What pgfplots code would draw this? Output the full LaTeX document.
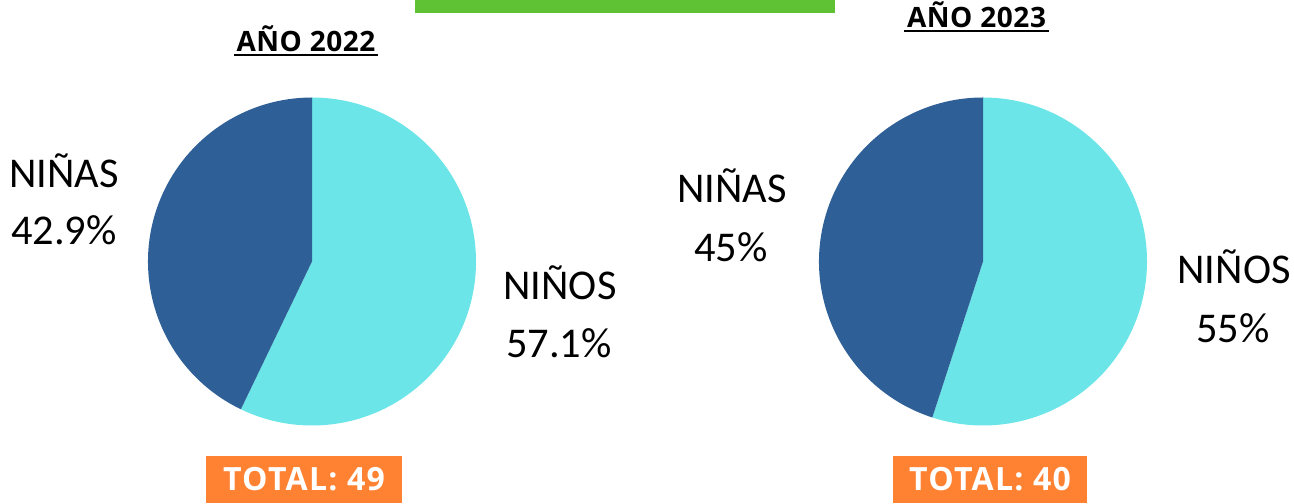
\documentclass[border=0pt]{standalone}
\usepackage{pgfplots}
\pgfplotsset{compat=1.18}
\usepackage{pgfplotstable}
\usepackage{fontspec}
\setmainfont{Carlito}
\newfontfamily\opensans{Open Sans}[BoldFont={Open Sans Bold}]
\newfontfamily\opensanswide{Open Sans}[BoldFont={Open Sans Bold},LetterSpace=4]
\newfontfamily\opensanstitle{Open Sans}[BoldFont={Open Sans Bold},LetterSpace=2]
\definecolor{cyanc}{HTML}{6BE5E8}
\definecolor{navyc}{HTML}{2E5F96}
\definecolor{greenc}{HTML}{5EC234}
\definecolor{orangec}{HTML}{FF8233}
% pie data: share of boys (NIÑOS) and girls (NIÑAS), in %
\pgfplotstableread{
year boys girls total
2022 57.14 42.86 49
2023 55 45 40
}\piedata
\begin{document}
\begin{tikzpicture}
\begin{axis}[x=0.5pt,y=0.5pt,xmin=0,xmax=1294,ymin=0,ymax=503,
  hide axis,clip=false,anchor=south west,at={(0,0)}]
% green bar
\fill[greenc] (axis cs:415,490) rectangle (axis cs:835,503);
% pie 2022
\fill[cyanc] (axis cs:312,241.5) -- ++(90:82pt) arc[start angle=90, end angle={90-3.6*57.14}, radius=82pt] -- cycle;
\fill[navyc] (axis cs:312,241.5) -- ++({90-3.6*57.14}:82pt) arc[start angle={90-3.6*57.14}, end angle={-270}, radius=82pt] -- cycle;
% pie 2023
\fill[cyanc] (axis cs:983,241.5) -- ++(90:82pt) arc[start angle=90, end angle={90-3.6*55}, radius=82pt] -- cycle;
\fill[navyc] (axis cs:983,241.5) -- ++({90-3.6*55}:82pt) arc[start angle={90-3.6*55}, end angle={-270}, radius=82pt] -- cycle;
% titles
\node[anchor=base,font=\opensanstitle\bfseries\fontsize{14}{16}\selectfont,inner sep=0pt] at (axis cs:306,451) {AÑO 2022};
\draw[line width=1pt] (axis cs:234,448) -- (axis cs:378,448);
\node[anchor=base,font=\opensanstitle\bfseries\fontsize{14}{16}\selectfont,inner sep=0pt] at (axis cs:976.5,475) {AÑO 2023};
\draw[line width=1pt] (axis cs:904,472) -- (axis cs:1049,472);
% labels
\tikzset{lbl/.style={anchor=base,font=\fontsize{21.2}{24}\selectfont,inner sep=0pt}}
\node[lbl] at (axis cs:64,315) {NIÑAS};
\node[lbl] at (axis cs:64,258) {42.9\%};
\node[lbl] at (axis cs:560,203) {NIÑOS};
\node[lbl] at (axis cs:559,145) {57.1\%};
\node[lbl] at (axis cs:732,300) {NIÑAS};
\node[lbl] at (axis cs:731,241) {45\%};
\node[lbl] at (axis cs:1234,219) {NIÑOS};
\node[lbl] at (axis cs:1233,160) {55\%};
% totals
\fill[orangec] (axis cs:206,0) rectangle (axis cs:402,47);
\fill[orangec] (axis cs:893,0) rectangle (axis cs:1087,47);
\node[anchor=base,text=white,font=\opensanswide\bfseries\fontsize{16}{18}\selectfont,inner sep=0pt] at (axis cs:304,13) {TOTAL: 49};
\node[anchor=base,text=white,font=\opensanswide\bfseries\fontsize{16}{18}\selectfont,inner sep=0pt] at (axis cs:990,13) {TOTAL: 40};
\end{axis}
\pgfresetboundingbox
\path (0,0) rectangle (647pt,251.5pt);
\end{tikzpicture}
\end{document}
